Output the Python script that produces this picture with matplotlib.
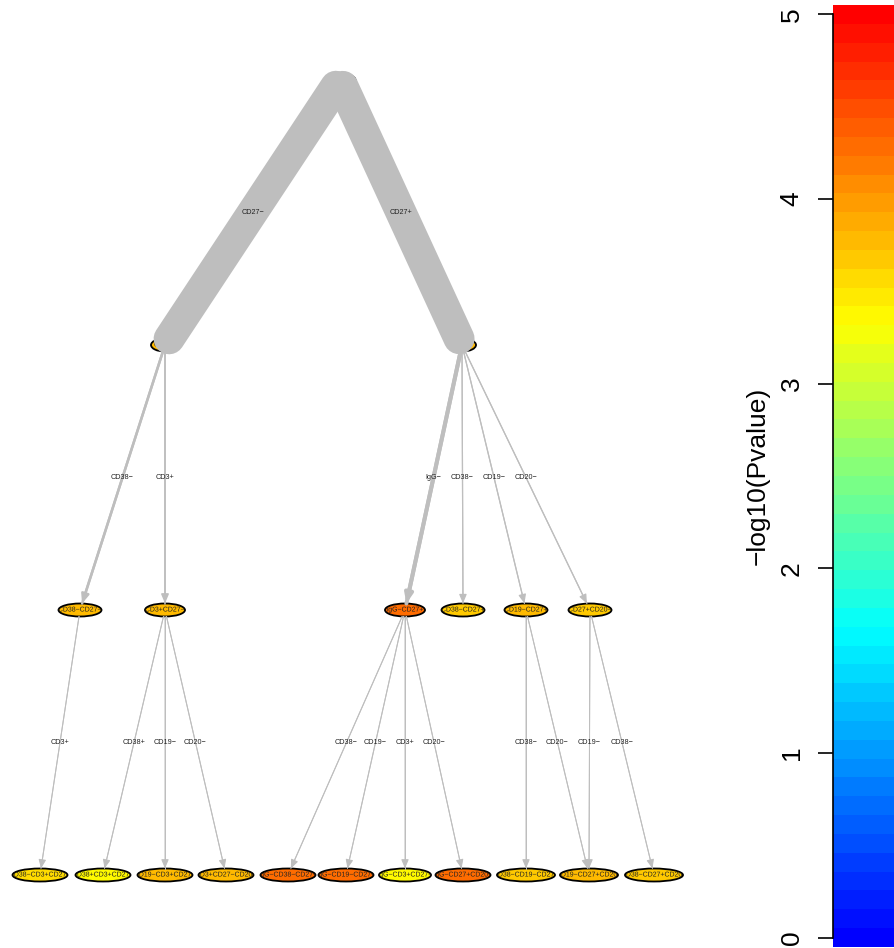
import numpy as np
import matplotlib
matplotlib.use("Agg")
import matplotlib.pyplot as plt
import matplotlib.patheffects as pe
from matplotlib.patches import Ellipse
from matplotlib.colors import LinearSegmentedColormap, ListedColormap

plt.rcParams['font.family'] = ['Liberation Sans', 'DejaVu Sans']

############
# DATA
############

node_names = ["Parent", "CD27−", "CD27+",
              "CD38−CD27−", "CD3+CD27−", "IgG−CD27+", "CD38−CD27+", "CD19−CD27+", "CD27+CD20−",
              "CD38−CD3+CD27−", "CD38+CD3+CD27−", "CD19−CD3+CD27−", "CD3+CD27−CD20−",
              "IgG−CD38−CD27+", "IgG−CD19−CD27+", "IgG−CD3+CD27+", "IgG−CD27+CD20−",
              "CD38−CD19−CD27+", "CD19−CD27+CD20−", "CD38−CD27+CD20−"]
# tree layout: depth level and horizontal position (layout units)
node_level = [0, 1, 1, 2, 2, 2, 2, 2, 2, 3, 3, 3, 3, 3, 3, 3, 3, 3, 3, 3]
node_x = [340, 165, 462, 80, 165, 405, 463, 526, 590,
          40, 103, 165, 226, 288, 346, 405, 463, 526, 589, 654]
node_logp = [3.8, 3.8, 3.8, 3.8, 3.8, 4.25, 3.7, 3.75, 3.7,
             3.6, 3.35, 3.8, 3.8, 4.25, 4.25, 3.4, 4.3, 3.7, 3.8, 3.7]

edge_from = [0, 0, 1, 1, 2, 2, 2, 2, 3, 4, 4, 4, 5, 5, 5, 5, 7, 7, 8, 8]
edge_to = [1, 2, 3, 4, 5, 6, 7, 8, 9, 10, 11, 12, 13, 14, 15, 16, 17, 18, 18, 19]
edge_label = ["CD27−", "CD27+", "CD38−", "CD3+", "IgG−", "CD38−", "CD19−", "CD20−",
              "CD3+", "CD38+", "CD19−", "CD20−", "CD38−", "CD19−", "CD3+", "CD20−",
              "CD38−", "CD20−", "CD19−", "CD38−"]
edge_width = [31, 31, 2.5, 1.6, 4, 1.2, 1.2, 1.2, 1, 1, 1, 1, 1, 1, 1, 1, 1, 1, 1, 1]

cbar_ticks = [0, 1, 2, 3, 4, 5]

############
# FIGURE
############

W, H = 894, 948
fig = plt.figure(figsize=(W / 100, H / 100), dpi=100)
ax = fig.add_axes([0, 0, 720 / W, 1])
ax.set_xlim(0, 720)
ax.set_ylim(H, 0)
ax.axis('off')

palette = LinearSegmentedColormap.from_list('bcyr', ['blue', 'cyan', 'yellow', 'red'])(np.linspace(0, 1, 50))

level_y0, level_dy = 80, 265
ell_h = 13


def node_pos(i):
    return node_x[i], level_y0 + level_dy * node_level[i]


def node_w(i):
    return 13 + 3 * len(node_names[i])


def boundary(i, dx, dy):
    # point on node i's ellipse along direction (dx, dy)
    a, b = node_w(i) / 2, ell_h / 2
    s = 1 / np.sqrt((dx / a) ** 2 + (dy / b) ** 2)
    x, y = node_pos(i)
    return x + s * dx, y + s * dy


# nodes, label clipped to the ellipse
for i in range(len(node_names)):
    x, y = node_pos(i)
    c = palette[int(round(node_logp[i] / 5 * 49))]
    e = Ellipse((x, y), node_w(i), ell_h, facecolor=c, edgecolor='black', lw=1.3, zorder=2)
    ax.add_patch(e)
    t = ax.text(x, y, node_names[i], fontsize=5.0, ha='center', va='center', color='#222222',
                zorder=2.5, clip_on=True, path_effects=[pe.Normal()])
    t.set_clip_path(e)

# edges
for k in range(len(edge_from)):
    a, b = edge_from[k], edge_to[k]
    xa, ya = node_pos(a)
    xb, yb = node_pos(b)
    dx, dy = xb - xa, yb - ya
    x0, y0 = boundary(a, dx, dy)
    x1, y1 = boundary(b, -dx, -dy)
    w = edge_width[k] * 0.72
    ax.plot([x0, x1], [y0, y1], color='#BEBEBE', lw=w, solid_capstyle='round', zorder=3)
    if edge_width[k] < 10:
        ax.annotate('', xy=(x1, y1), xytext=(x0, y0),
                    arrowprops=dict(arrowstyle='-|>,head_length=0.6,head_width=0.25',
                                    color='#BEBEBE', lw=w, shrinkA=0, shrinkB=0,
                                    mutation_scale=9),
                    zorder=3)
    ax.text((xa + xb) / 2, (ya + yb) / 2, edge_label[k], fontsize=5.2,
            ha='center', va='center', color='#222222', zorder=4)

############
# COLOR KEY
############

d = 5 / 49
edges = np.linspace(-d / 2, 5 + d / 2, 51)
cax = fig.add_axes([833 / W, 1 / H, 70 / W, 942 / H])
cax.pcolormesh([0, 1], edges, np.arange(50).reshape(50, 1), cmap=ListedColormap(palette))
cax.set_ylim(edges[0], edges[-1])
cax.set_xlim(0, 1)
for s in ['top', 'right', 'bottom']:
    cax.spines[s].set_visible(False)
cax.spines['left'].set_bounds(0, 5)
cax.spines['left'].set_linewidth(1.2)
cax.set_xticks([])
cax.set_yticks(cbar_ticks)
cax.tick_params(axis='y', length=11, width=1.2, pad=10, labelsize=19)
for lab in cax.get_yticklabels():
    lab.set_rotation(90)
    lab.set_va('center')
cax.set_ylabel('−log10(Pvalue)', fontsize=19, labelpad=7)

fig.savefig('out.png', dpi=100)
